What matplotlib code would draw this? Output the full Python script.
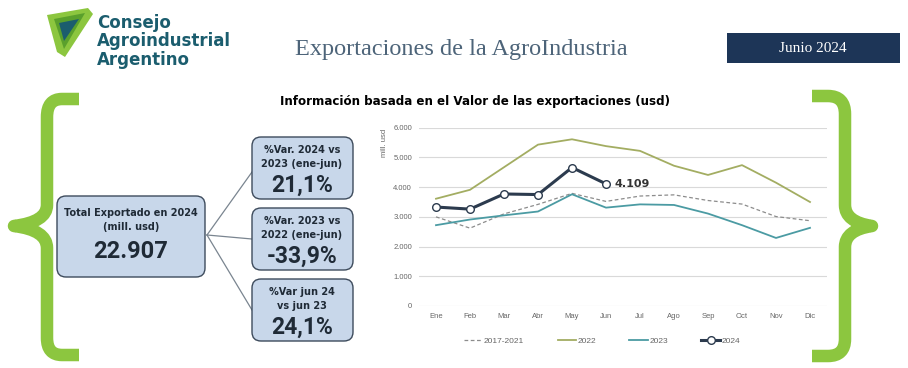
import matplotlib.pyplot as plt
from matplotlib.patches import FancyBboxPatch, PathPatch, Polygon, Rectangle
from matplotlib.path import Path

# data
meses = ["Ene", "Feb", "Mar", "Abr", "May", "Jun", "Jul", "Ago", "Sep", "Oct", "Nov", "Dic"]
prom_2017_2021 = [3000, 2620, 3100, 3420, 3790, 3520, 3700, 3740, 3550, 3430, 3010, 2870]
v2022 = [3610, 3910, 4670, 5430, 5610, 5380, 5220, 4720, 4410, 4740, 4150, 3500]
v2023 = [2720, 2910, 3050, 3180, 3760, 3310, 3420, 3400, 3110, 2720, 2290, 2630]
v2024 = [3330, 3260, 3770, 3750, 4660, 4109]
yticks = [0, 1000, 2000, 3000, 4000, 5000, 6000]
ytick_labels = ["0", "1.000", "2.000", "3.000", "4.000", "5.000", "6.000"]

total_2024 = "22.907"
var_items = [("%Var. 2024 vs\n2023 (ene-jun)", "21,1%"),
             ("%Var. 2023 vs\n2022 (ene-jun)", "-33,9%"),
             ("%Var jun 24\nvs jun 23", "24,1%")]

GREEN = "#8cc63f"
TEAL_DARK = "#1b5d6e"
NAVY = "#1d3557"
BOX_FILL = "#c8d7ea"
BOX_EDGE = "#3d4b5c"
TXT = "#1f2a36"
SANS = "Roboto"
WIDE = "DejaVu Sans"

fig = plt.figure(figsize=(9.08, 3.68), dpi=100)
bg = fig.add_axes([0, 0, 1, 1])
bg.set_xlim(0, 908)
bg.set_ylim(368, 0)
bg.axis("off")

# logo
bg.add_patch(Polygon([(47, 15), (88, 8), (93, 14), (65, 57), (57, 52)], closed=True, fc=GREEN, ec="none"))
bg.add_patch(Polygon([(54, 19), (85, 13), (64, 49)], closed=True, fc="#5aa02c", ec="none"))
bg.add_patch(Polygon([(59, 23), (79, 19), (64, 41)], closed=True, fc=TEAL_DARK, ec="none"))
for i, w in enumerate(["Consejo", "Agroindustrial", "Argentino"]):
    bg.text(97, 28 + i * 18.5, w, fontsize=12, fontweight="bold", color=TEAL_DARK,
            family=WIDE, va="baseline", ha="left")

# title
bg.text(295, 50, "Exportaciones de la AgroIndustria", fontsize=17.5, color="#4d6479",
        family="Liberation Serif", va="center", ha="left")
bg.add_patch(Rectangle((727, 33), 173, 30, fc=NAVY, ec="none"))
bg.text(813, 48, "Junio 2024", fontsize=11, color="white", family="Liberation Serif",
        va="center", ha="center")

bg.text(475, 101, "Información basada en el Valor de las exportaciones (usd)", fontsize=8.6,
        fontweight="bold", color="black", family=WIDE, va="center", ha="center")

# braces
def brace(pts_codes):
    verts = [p for p, c in pts_codes]
    codes = [c for p, c in pts_codes]
    return PathPatch(Path(verts, codes), fc="none", ec=GREEN, lw=9, capstyle="butt", joinstyle="round")

M, L, C = Path.MOVETO, Path.LINETO, Path.CURVE3
bg.add_patch(brace([((79, 99), M), ((62, 99), L), ((47, 99), C), ((47, 117), C),
                    ((47, 205), L), ((47, 222), C), ((14, 226), C),
                    ((47, 230), C), ((47, 248), C), ((47, 338), L),
                    ((47, 355), C), ((62, 355), C), ((79, 355), L)]))
bg.add_patch(brace([((812, 96), M), ((828, 96), L), ((845, 96), C), ((845, 114), C),
                    ((845, 205), L), ((845, 222), C), ((872, 226), C),
                    ((845, 230), C), ((845, 247), C), ((845, 339), L),
                    ((845, 356), C), ((828, 356), C), ((812, 356), L)]))

# boxes
def rbox(x0, y0, x1, y1):
    bg.add_patch(FancyBboxPatch((x0, y0), x1 - x0, y1 - y0, boxstyle="round,pad=0,rounding_size=9",
                                fc=BOX_FILL, ec=BOX_EDGE, lw=1.0, zorder=3))

box_y = [(137, 199), (208, 270), (279, 341)]
targets = [172, 239, 310]
for t in targets:
    bg.plot([207, 252], [235, t], color="#7a8590", lw=0.9, zorder=2)

rbox(57, 196, 205, 277)
bg.text(131, 213, "Total Exportado en 2024", fontsize=7, fontweight="bold", color=TXT,
        family=WIDE, ha="center", va="center", zorder=4)
bg.text(131, 227, "(mill. usd)", fontsize=7, fontweight="bold", color=TXT,
        family=WIDE, ha="center", va="center", zorder=4)
bg.text(131, 251, total_2024, fontsize=17, fontweight="bold", color=TXT,
        family=SANS, ha="center", va="center", zorder=4)

for (lbl, val), (y0, y1) in zip(var_items, box_y):
    rbox(252, y0, 353, y1)
    l1, l2 = lbl.split("\n")
    bg.text(302, y0 + 13, l1, fontsize=7, fontweight="bold", color=TXT, family=WIDE,
            ha="center", va="center", zorder=4)
    bg.text(302, y0 + 27, l2, fontsize=7, fontweight="bold", color=TXT, family=WIDE,
            ha="center", va="center", zorder=4)
    bg.text(302, y0 + 48, val, fontsize=16.5, fontweight="bold", color=TXT, family=SANS,
            ha="center", va="center", zorder=4)

# line chart
ax = fig.add_axes([419 / 908, 1 - 306 / 368, 408 / 908, (306 - 127.7) / 368])
x = list(range(len(meses)))
ax.plot(x, prom_2017_2021, color="#8c8c8c", lw=0.9, ls=(0, (3, 2)), label="2017-2021")
ax.plot(x, v2022, color="#a3ad62", lw=1.3, label="2022")
ax.plot(x, v2023, color="#4b9ba3", lw=1.3, label="2023")
ax.plot(x[:len(v2024)], v2024, color="#2c3b4e", lw=2.2, marker="o", ms=5.5, mfc="white",
        mec="#2c3b4e", mew=1.0, label="2024", zorder=5)
ax.text(5 + 0.26, v2024[-1], "4.109", fontsize=8, fontweight="bold", color="#333333",
        ha="left", va="center", family=WIDE)

ax.set_xlim(-0.5, 11.5)
ax.set_ylim(0, 6000)
ax.set_xticks(x)
ax.set_xticklabels(meses)
ax.set_yticks(yticks)
ax.set_yticklabels(ytick_labels)
ax.tick_params(length=0, labelsize=5.5, labelcolor="#666666", pad=5)
for lab in ax.get_xticklabels() + ax.get_yticklabels():
    lab.set_family("Liberation Sans")
ax.grid(axis="y", color="#d9d9d9", lw=0.8)
ax.set_axisbelow(True)
for s in ax.spines.values():
    s.set_visible(False)
ax.patch.set_alpha(0)
bg.text(385, 143, "mill. usd", rotation=90, fontsize=5.5, color="#666666", family="Liberation Sans",
        ha="center", va="center")

leg = ax.legend(loc="center", bbox_to_anchor=(602 / 908, 1 - 341 / 368), bbox_transform=fig.transFigure,
                ncol=4, frameon=False, fontsize=6, handlelength=2.2, handletextpad=0.2, columnspacing=4)
for t in leg.get_texts():
    t.set_color("#666666")
    t.set_family("Liberation Sans")

fig.savefig("out.png", dpi=100)
